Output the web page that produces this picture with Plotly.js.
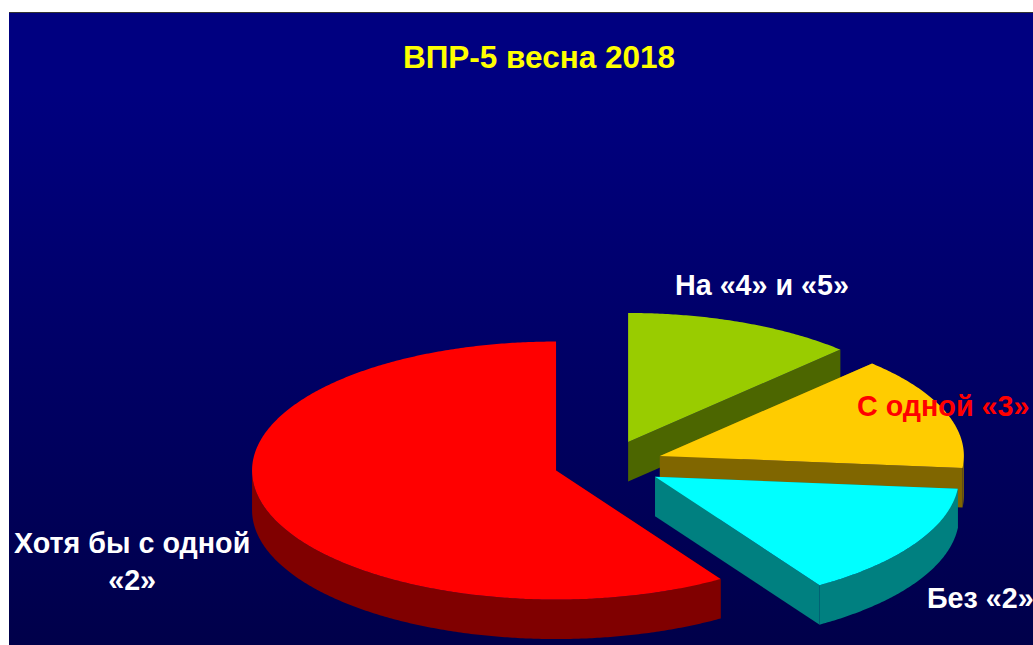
<!DOCTYPE html>
<html>
<head>
<meta charset="utf-8">
<script src="https://cdn.plot.ly/plotly-3.0.1.min.js"></script>
<style>
html,body{margin:0;padding:0;background:#fff;overflow:hidden}
#bg{position:absolute;left:9px;top:12px;width:1024px;height:633px;box-sizing:border-box;border-top:1px solid #333;background:linear-gradient(#000080 0%,#000080 12%,#00004a 100%)}
#chart{position:absolute;left:0;top:0;width:1033px;height:645px}
</style>
</head>
<body>
<div id="bg"></div>
<div id="chart"></div>
<script>
// Data (percent of pupils), in drawing order, clockwise from 12 o'clock
const categories = ["На «4» и «5»", "С одной «3»", "Без «2»", "Хотя бы с одной<br>«2»"];
const values = [12.3, 14.2, 14.4, 59.1];
const topColors = ["#99cc00", "#ffcc00", "#00ffff", "#ff0000"];
const wallColors = ["#4c6600", "#806600", "#008080", "#800000"];
const labelColors = ["#ffffff", "#ff0000", "#ffffff", "#ffffff"];
const labelX = [762, 943, 980, 132];
const labelY = [285, 406, 598, 561];
const explode = [0.186, 0.186, 0.186, 0.174];
const chartTitle = "ВПР-5 весна 2018";

// Pie projection: one data unit is one pie radius
const pxX = 304, pxY = 129, centerPx = [606.8, 464.2], depth = 39.5 / pxY;
const plotL = 9, plotT = 12, plotW = 1024, plotH = 633;

const total = values.reduce((a, b) => a + b, 0);
const rad = d => d * Math.PI / 180;
const rim = (a, c, dz) => [c[0] + Math.sin(rad(a)), c[1] + Math.cos(rad(a)) - dz];
const sweepAngles = (from, to) => {
  const out = [];
  for (let a = from; a < to; a += 0.5) out.push(a);
  out.push(to);
  return out;
};
const common = {type: "scatter", mode: "lines", fill: "toself", line: {width: 0, simplify: false}, hoverinfo: "skip", showlegend: false};

let start = 0;
const traces = [];
values.forEach((v, i) => {
  const sweep = v / total * 360, end = start + sweep, mid = start + sweep / 2;
  const c = [explode[i] * Math.sin(rad(mid)), explode[i] * Math.cos(rad(mid))];
  // cut faces
  [start, end].forEach(a => {
    const p = rim(a, c, 0), q = rim(a, c, depth);
    traces.push(Object.assign({}, common, {
      x: [c[0], p[0], q[0], c[0], c[0]],
      y: [c[1], p[1], q[1], c[1] - depth, c[1]],
      fillcolor: wallColors[i]
    }));
  });
  // front-facing part of the rim
  const from = Math.max(start, 90), to = Math.min(end, 270);
  if (to > from) {
    const angles = sweepAngles(from, to);
    const upper = angles.map(a => rim(a, c, 0));
    const lower = angles.map(a => rim(a, c, depth)).reverse();
    const ring = upper.concat(lower, [upper[0]]);
    traces.push(Object.assign({}, common, {x: ring.map(p => p[0]), y: ring.map(p => p[1]), fillcolor: wallColors[i]}));
  }
  // top face
  const arc = sweepAngles(start, end).map(a => rim(a, c, 0));
  const face = [c].concat(arc, [c]);
  traces.push(Object.assign({}, common, {x: face.map(p => p[0]), y: face.map(p => p[1]), fillcolor: topColors[i], name: categories[i]}));
  start = end;
});

const xMin = (plotL - centerPx[0]) / pxX, xMax = (plotL + plotW - centerPx[0]) / pxX;
const yMax = (centerPx[1] - plotT) / pxY, yMin = (centerPx[1] - plotT - plotH) / pxY;
const hidden = {visible: false, fixedrange: true, showgrid: false, zeroline: false};

const annotations = categories.map((t, i) => ({
  text: "<b>" + t + "</b>", xref: "paper", yref: "paper",
  x: (labelX[i] - plotL) / plotW, y: 1 - (labelY[i] - plotT) / plotH,
  xanchor: "center", yanchor: "middle", showarrow: false, align: "center",
  font: {family: "Liberation Sans, Arial, sans-serif", size: 28.7, color: labelColors[i]}
}));

Plotly.newPlot("chart", traces, {
  width: 1033, height: 645,
  margin: {l: plotL, r: 0, t: plotT, b: 0, pad: 0},
  paper_bgcolor: "rgba(0,0,0,0)", plot_bgcolor: "rgba(0,0,0,0)",
  xaxis: Object.assign({range: [xMin, xMax]}, hidden),
  yaxis: Object.assign({range: [yMin, yMax]}, hidden),
  title: {text: "<b>" + chartTitle + "</b>", x: 539 / 1033, xanchor: "center", y: 1 - 57 / 645, yanchor: "middle",
          font: {family: "Liberation Sans, Arial, sans-serif", size: 31.5, color: "#ffff00"}},
  annotations: annotations,
  showlegend: false
}, {displayModeBar: false, staticPlot: true});
</script>
</body>
</html>
